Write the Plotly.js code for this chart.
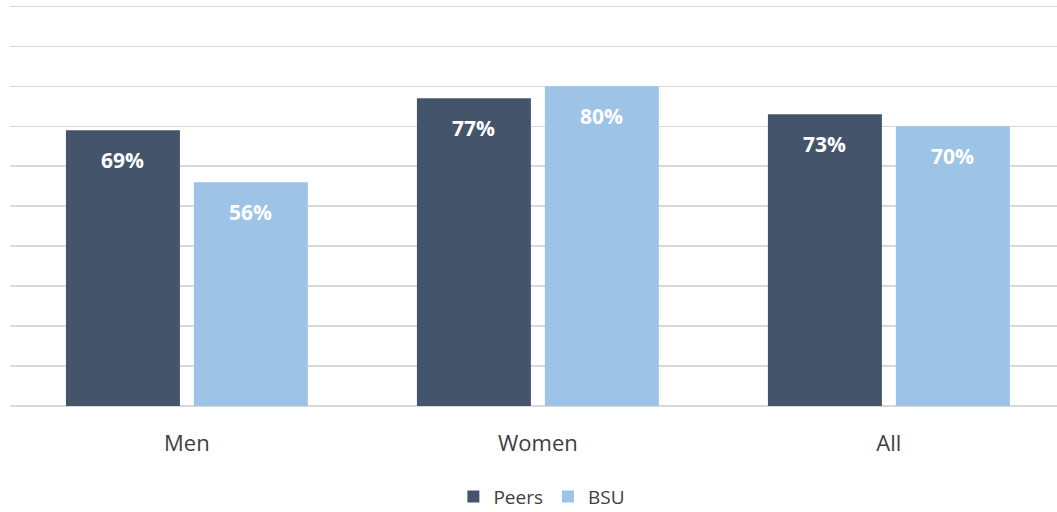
<!DOCTYPE html>
<html>
<head>
<meta charset="utf-8">
<script src="https://cdn.plot.ly/plotly-3.0.1.min.js"></script>
<style>html,body{margin:0;padding:0;background:#fff;}#chart{width:1057px;height:512px;}</style>
</head>
<body>
<div id="chart"></div>
<script>
const categories = ["Men", "Women", "All"];
const peers = [69, 77, 73];
const bsu = [56, 80, 70];
const seriesNames = ["Peers", "BSU"];

const colors = ["#44546A", "#9DC3E6"];
const font = "'Open Sans', sans-serif";

const traces = [peers, bsu].map((vals, i) => ({
  type: "bar",
  name: seriesNames[i],
  x: categories,
  y: vals,
  marker: {color: colors[i]},
  hoverinfo: "skip"
}));

const annotations = [];
[peers, bsu].forEach((vals, i) => {
  vals.forEach((v, j) => {
    annotations.push({
      x: categories[j], y: v, xref: "x", yref: "y",
      xshift: (i === 0 ? -1 : 1) * 64,
      yshift: -30,
      text: "<b>" + v + "%</b>",
      showarrow: false,
      font: {family: font, size: 21, color: "#FFFFFF"},
      yanchor: "middle", xanchor: "center"
    });
  });
});

const layout = {
  width: 1057, height: 512,
  margin: {l: 10, r: 0, t: 0, b: 106, autoexpand: false},
  paper_bgcolor: "#fff", plot_bgcolor: "#fff",
  barmode: "group",
  bargap: 0.271,
  bargroupgap: 0.109,
  showlegend: true,
  legend: {orientation: "h", x: 0.508, xanchor: "center", yref: "container", y: 0.03, yanchor: "middle",
    font: {family: font, size: 19, color: "#404040"}, itemwidth: 30, traceorder: "normal"},
  xaxis: {
    type: "category",
    range: [-0.504, 2.479],
    showgrid: false, zeroline: false, showline: false,
    ticks: "", ticklabelstandoff: 22,
    tickfont: {family: font, size: 22, color: "#404040"}
  },
  yaxis: {
    range: [0, 101.6], dtick: 10,
    showgrid: true, gridcolor: "#D9D9D9", gridwidth: 1.5,
    zeroline: true, zerolinecolor: "#D9D9D9", zerolinewidth: 1.5,
    showticklabels: false, ticks: ""
  },
  annotations: annotations
};

Plotly.newPlot("chart", traces, layout, {displayModeBar: false, staticPlot: true});
</script>
</body>
</html>
